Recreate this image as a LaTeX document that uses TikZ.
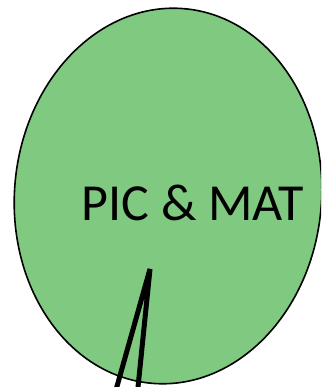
\documentclass[tikz,border=0pt]{standalone}
\usepackage{fontspec}
\setmainfont{Carlito}
\usepackage{xcolor}
\usetikzlibrary{shapes.geometric}
\definecolor{blobgreen}{RGB}{128,201,128}

\begin{document}
\begin{tikzpicture}[x=1pt,y=1pt,
  point/.style={coordinate},
  blob/.style={ellipse, draw=black, fill=blobgreen, line width=1.6pt, inner sep=0pt, minimum width=307pt, minimum height=376pt},
  tag/.style={inner sep=0pt, text=black, font=\fontsize{52}{60}\selectfont},
  stroke/.style={draw=black, line width=5pt, line join=bevel}]
\useasboundingbox (0,0) rectangle (321,387);
\clip (0,0) rectangle (321,387);
\node[blob, rotate=-5] (pm) at (168,191) {};
\node[tag] (pmtext) at (193,184) {PIC \& MAT};
\node[point] (p0) at (114,-10) {};
\node[point] (p1) at (150,118) {};
\node[point] (p2) at (137,-10) {};
\draw[stroke]   (p0) -- (p1) -- (p2);
\end{tikzpicture}
\end{document}
